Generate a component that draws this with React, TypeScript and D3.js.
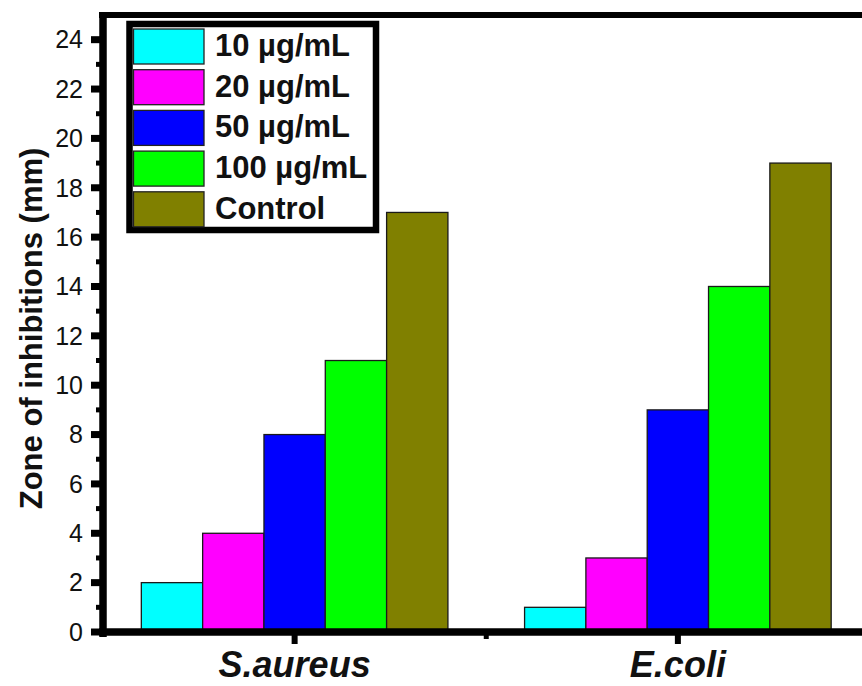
import React from "react";
import * as d3 from "d3";

const categories = ["S.aureus", "E.coli"];
const seriesNames = ["10 µg/mL", "20 µg/mL", "50 µg/mL", "100 µg/mL", "Control"];
const seriesColors = ["#00FFFF", "#FF00FF", "#0000FF", "#00FF00", "#808000"];
const values: number[][] = [
  [2, 1],
  [4, 3],
  [8, 9],
  [11, 14],
  [17, 19],
];
const yTicks = [0, 2, 4, 6, 8, 10, 12, 14, 16, 18, 20, 22, 24];
const yMinorTicks = [1, 3, 5, 7, 9, 11, 13, 15, 17, 19, 21, 23];

const W = 862;
const H = 686;

export default function App() {
  const x = d3.scaleLinear().domain([0.5, 2.5]).range([103, 869.5]);
  const y = d3.scaleLinear().domain([0, 25]).range([632, 15]);
  const inner = d3.scaleBand<number>().domain(d3.range(seriesNames.length)).range([-0.4, 0.4]);
  const font = "Arial, 'Liberation Sans', Helvetica, sans-serif";

  return (
    <svg width={W} height={H} style={{ position: "absolute", left: 0, top: 0, background: "#fff" }} fontFamily={font}>
      <rect x={0} y={0} width={W} height={H} fill="#fff" />
      {/* bars */}
      {values.map((vals, si) =>
        vals.map((v, ci) => {
          const x0 = x(ci + 1 + (inner(si) as number));
          const x1 = x(ci + 1 + (inner(si) as number) + inner.bandwidth());
          return (
            <rect
              key={`${si}-${ci}`}
              x={x0}
              y={y(v)}
              width={x1 - x0}
              height={y(0) - y(v)}
              fill={seriesColors[si]}
              stroke="#1a1a1a"
              strokeWidth={1.3}
            />
          );
        })
      )}
      {/* frame: top, left, bottom */}
      <line x1={99} x2={W} y1={15} y2={15} stroke="#000" strokeWidth={6} />
      <line x1={x(0.5)} x2={x(0.5)} y1={12} y2={637} stroke="#000" strokeWidth={7.5} />
      <line x1={99} x2={W} y1={y(0)} y2={y(0)} stroke="#000" strokeWidth={7.5} />
      {/* y ticks */}
      {yTicks.map((t) => (
        <g key={`yt${t}`}>
          <line x1={91} x2={100} y1={y(t)} y2={y(t)} stroke="#000" strokeWidth={7} />
          <text x={83} y={y(t)} dy="0.35em" textAnchor="end" fontSize={25} fill="#111">
            {t}
          </text>
        </g>
      ))}
      {yMinorTicks.map((t) => (
        <line key={`ym${t}`} x1={96} x2={100} y1={y(t)} y2={y(t)} stroke="#000" strokeWidth={5} />
      ))}
      {/* x ticks */}
      {categories.map((c, i) => (
        <g key={`xt${c}`}>
          <line x1={x(i + 1)} x2={x(i + 1)} y1={634} y2={644} stroke="#000" strokeWidth={6} />
          <text
            x={x(i + 1)}
            y={677}
            textAnchor="middle"
            fontSize={36}
            fontWeight="bold"
            fontStyle="italic"
            fill="#111"
          >
            {c}
          </text>
        </g>
      ))}
      <line x1={x(1.5)} x2={x(1.5)} y1={634} y2={639} stroke="#000" strokeWidth={5} />
      {/* y axis title */}
      <text
        transform={`translate(42, ${y(12.3)}) rotate(-90)`}
        textAnchor="middle"
        fontSize={31}
        fontWeight="bold"
        fill="#111"
      >
        Zone of inhibitions (mm)
      </text>
      {/* legend */}
      <rect x={129.5} y={24} width={246.5} height={206} fill="#fff" stroke="#000" strokeWidth={6.5} />
      {seriesNames.map((s, i) => {
        const top = 29 + i * 40.7;
        return (
          <g key={`lg${s}`}>
            <rect x={133.5} y={top} width={70.5} height={35} fill={seriesColors[i]} stroke="#222" strokeWidth={1.3} />
            <text x={215} y={top + 27} fontSize={31} fontWeight="bold" fill="#111">
              {s}
            </text>
          </g>
        );
      })}
    </svg>
  );
}
